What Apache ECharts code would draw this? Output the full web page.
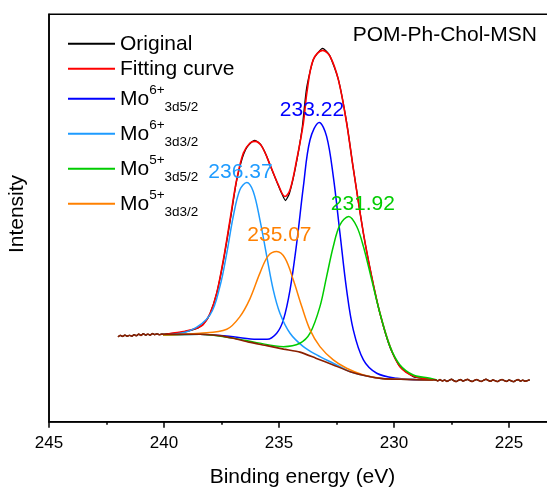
<!DOCTYPE html>
<html><head><meta charset="utf-8">
<script src="https://cdn.jsdelivr.net/npm/echarts@6/dist/echarts.min.js"></script>
<style>html,body{margin:0;padding:0;background:#fff}#c{width:547px;height:488px}</style>
</head><body><div id="c"></div>
<script>
// ---- data (binding energy eV, intensity a.u.) ----
const sampleName = 'POM-Ph-Chol-MSN';
const xTicks = [245, 240, 235, 230, 225];
const legendNames = ['Original', 'Fitting curve', 'Mo6+|3d5/2', 'Mo6+|3d3/2', 'Mo5+|3d5/2', 'Mo5+|3d3/2'];
const peakLabels = ['233.22', '236.37', '231.92', '235.07'];
const peakPoints = [[233.22, 299], [236.37, 239], [231.92, 205], [235.07, 170]];

const leftTail = [[242.0,84.8],[241.9,86.2],[241.8,85.2],[241.7,86.5],[241.6,85.4],[241.5,86.3],[241.4,85.5],[241.3,86.9],[241.2,85.9],[241.1,87.5],[241.0,86.2],[240.9,87.9],[240.8,86.6],[240.7,87.5],[240.6,86.5],[240.5,88.0],[240.4,87.0],[240.3,87.8],[240.2,86.9],[240.1,87.5]];
const rightTail = [[228.2,41.8],[228.1,40.8],[228.0,42.0],[227.9,40.7],[227.8,41.7],[227.7,40.3],[227.6,41.4],[227.5,42.4],[227.4,41.0],[227.3,40.1],[227.2,41.3],[227.1,42.0],[227.0,40.6],[226.9,41.6],[226.8,42.3],[226.7,41.0],[226.6,40.2],[226.5,41.4],[226.4,42.1],[226.3,40.9],[226.2,40.3],[226.1,41.5],[226.0,42.4],[225.9,41.2],[225.8,40.4],[225.7,41.8],[225.6,40.9],[225.5,40.1],[225.4,41.4],[225.3,42.1],[225.2,41.0],[225.1,40.3],[225.0,41.7],[224.9,40.8],[224.8,40.0],[224.7,41.3],[224.6,42.0],[224.5,40.6],[224.4,41.5],[224.3,40.4],[224.2,41.0],[224.1,41.8]];
const originalPeak = [[240.04,87.4],[239.6,88.2],[239.2,89.5],[238.8,91.6],[238.5,94.0],[238.2,100],[238.0,107.5],[237.7,129],[237.4,163],[237.1,204],[236.85,240],[236.6,263],[236.45,272],[236.3,277],[236.05,281],[235.8,277],[235.55,266],[235.35,254],[235.1,240],[234.9,229],[234.72,221],[234.55,228],[234.3,252],[234.0,292],[233.8,333],[233.5,362],[233.1,373],[232.8,366],[232.42,342],[232.06,299],[231.77,253],[231.33,188],[230.97,145],[230.61,108],[230.17,74],[229.74,55],[229.16,45],[228.7,43],[228.3,42]];
const fitCurve = [[240.04,86.7],[239.6,88.5],[239.16,90],[238.58,93.4],[238.3,97],[238.0,108],[237.71,128.4],[237.42,161.7],[237.13,201.7],[236.84,241.7],[236.55,268.4],[236.26,278.4],[236.04,280],[235.75,275],[235.39,256.7],[235.03,236.7],[234.74,225],[234.52,231.7],[234.23,261.7],[233.94,298.4],[233.78,330],[233.51,361.7],[233.10,371],[232.78,365],[232.42,341.7],[232.06,298.4],[231.77,253],[231.33,188.4],[230.97,145],[230.61,108.4],[230.17,75],[229.74,55],[229.16,45.7],[228.43,42.4],[228.3,42]];
const mo6_3d52 = [[240.04,86.7],[238.43,87.4],[236.99,84.8],[235.96,82.4],[235.52,82.4],[235.10,88.4],[234.81,101.7],[234.52,131.7],[234.23,178.4],[233.94,235],[233.65,281.7],[233.25,299],[232.93,285],[232.64,245],[232.35,188.4],[232.06,131.7],[231.77,91.7],[231.33,61.7],[230.75,48.4],[229.88,43.4],[228.74,41.7],[228.3,41.6]];
const mo6_3d32 = [[240.04,86.7],[238.87,91],[238.0,106.7],[237.57,135],[237.27,168.4],[236.99,205],[236.70,231.7],[236.40,239],[236.12,230],[235.83,201.7],[235.53,165],[235.25,131.7],[234.96,108.4],[234.52,88.4],[233.94,75],[233.36,66.7],[232.64,58.4],[231.91,50],[231.19,45.7],[230.47,43],[229.74,42.4],[228.3,41.7]];
const mo5_3d52 = [[240.04,86.7],[238.43,87.4],[236.99,83.5],[235.97,79],[234.81,75],[234.09,78.4],[233.65,88.4],[233.22,115],[232.93,145],[232.64,175],[232.35,196.7],[231.97,205],[231.62,195],[231.33,175],[230.97,141.7],[230.61,108.4],[230.17,75],[229.74,56.7],[229.16,46.7],[228.43,43.4],[228.13,41.7]];
const mo5_3d32 = [[240.04,86.7],[238.43,88.4],[237.27,92.4],[236.70,105],[236.26,123],[235.83,148.4],[235.47,165.7],[235.10,170],[234.74,163.4],[234.38,141.7],[234.01,115],[233.65,91.7],[233.22,75],[232.64,61.7],[232.06,53.4],[231.33,46.7],[230.47,43],[229.74,42.4],[228.3,41.7]];
const backgroundCurve = [[240.04,87.4],[239.4,87.4],[238.43,87.3],[237.6,86.0],[236.99,83.4],[236.3,79.5],[235.53,76],[234.8,72.5],[234.09,69.5],[233.4,63.5],[232.64,56.7],[231.91,50],[231.19,45.7],[230.47,43],[229.74,42.4],[228.3,41.7]];

// ---- chart ----
const FONT = "'Liberation Sans', Arial, sans-serif";
const colors = {orig:'#000000', fit:'#FF0000', b:'#0000FF', lb:'#1E9BFF', g:'#00CC00', o:'#FF8000', bg:'#8A2000'};
const labelOffsets = [[-8,-12.5],[-7,-10.5],[13,-12.5],[2,-16.5]];
const labelColors = [colors.b, colors.lb, colors.g, colors.o];

function lineSeries(name, data, color, width, z) {
  return {name, type:'line', data, symbol:'none', smooth:0.35, z,
    lineStyle:{color, width}, itemStyle:{color}, emphasis:{disabled:true}, animation:false};
}
const original = leftTail.concat(originalPeak, rightTail);
const bgFull = leftTail.concat(backgroundCurve, rightTail);
const compData = [mo6_3d52, mo6_3d32, mo5_3d52, mo5_3d32];
const compColors = [colors.b, colors.lb, colors.g, colors.o];

const series = [
  Object.assign(lineSeries(legendNames[0], original, colors.orig, 1.3, 2), {smooth:0.2}),
  lineSeries(legendNames[1], fitCurve, colors.fit, 1.6, 3)
];
compData.forEach((d, i) => {
  const s = lineSeries(legendNames[2+i], d, compColors[i], 1.5, 4);
  s.markPoint = {symbol:'circle', symbolSize:1, itemStyle:{color:'rgba(0,0,0,0)'}, animation:false,
    data:[{coord: peakPoints[i], label:{show:true, position:'inside', formatter: peakLabels[i],
      offset: labelOffsets[i], color: labelColors[i], fontSize:21, fontFamily:FONT}}]};
  series.push(s);
});
series.push(Object.assign(lineSeries('Background', bgFull, colors.bg, 1.6, 5), {smooth:0.2}));

const chart = echarts.init(document.getElementById('c'), null, {renderer:'canvas'});
chart.setOption({
  animation:false,
  backgroundColor:'#fff',
  title:{text: sampleName, right:10, top:25, padding:0,
    textStyle:{fontSize:21, fontWeight:'normal', color:'#000', fontFamily:FONT}},
  legend:{data: legendNames, orient:'vertical', left:67, top:33.3, padding:0, itemGap:4,
    itemWidth:47, itemHeight:14, selectedMode:false,
    itemStyle:{opacity:0},
    textStyle:{fontSize:21, color:'#000', fontFamily:FONT, lineHeight:20,
      rich:{
        m:{fontSize:21, lineHeight:31, fontFamily:FONT, color:'#000'},
        sup:{fontSize:13.5, lineHeight:23, verticalAlign:'top', fontFamily:FONT, color:'#000'},
        sub:{fontSize:13.5, lineHeight:10, verticalAlign:'bottom', fontFamily:FONT, color:'#000'}
      }},
    formatter: function(name){
      if (name.indexOf('|') < 0) return name;
      const p = name.split('|');
      return '{m|Mo}{sup|' + p[0].slice(2) + '}{sub|' + p[1] + '}';
    }},
  grid:{left:49, top:14.3, right:-77, bottom:66.3, show:true, borderColor:'#000', borderWidth:1.5,
    outerBoundsMode:'none', containLabel:false},
  xAxis:{type:'value', inverse:true, min:220, max:245, interval:5,
    name:'Binding energy (eV)', nameLocation:'middle', nameGap:45,
    nameTextStyle:{fontSize:21, color:'#000', fontFamily:FONT, padding:[0,68,0,0]},
    axisLine:{show:true, onZero:false, lineStyle:{color:'#000', width:1.5}},
    axisTick:{show:true, length:6, lineStyle:{color:'#000', width:1.5}},
    minorTick:{show:true, splitNumber:2, length:3, lineStyle:{color:'#000', width:1.5}},
    splitLine:{show:false},
    axisLabel:{fontSize:17, color:'#000', fontFamily:FONT, margin:13,
      formatter: v => xTicks.indexOf(v) >= 0 ? String(v) : ''}},
  yAxis:{type:'value', min:0, max:407,
    name:'Intensity', nameLocation:'middle', nameGap:21,
    nameTextStyle:{fontSize:21, color:'#000', fontFamily:FONT, padding:[0,0,0,8]},
    axisLine:{show:true, lineStyle:{color:'#000', width:1.5}},
    axisTick:{show:false}, axisLabel:{show:false}, splitLine:{show:false}},
  series
});
</script></body></html>
